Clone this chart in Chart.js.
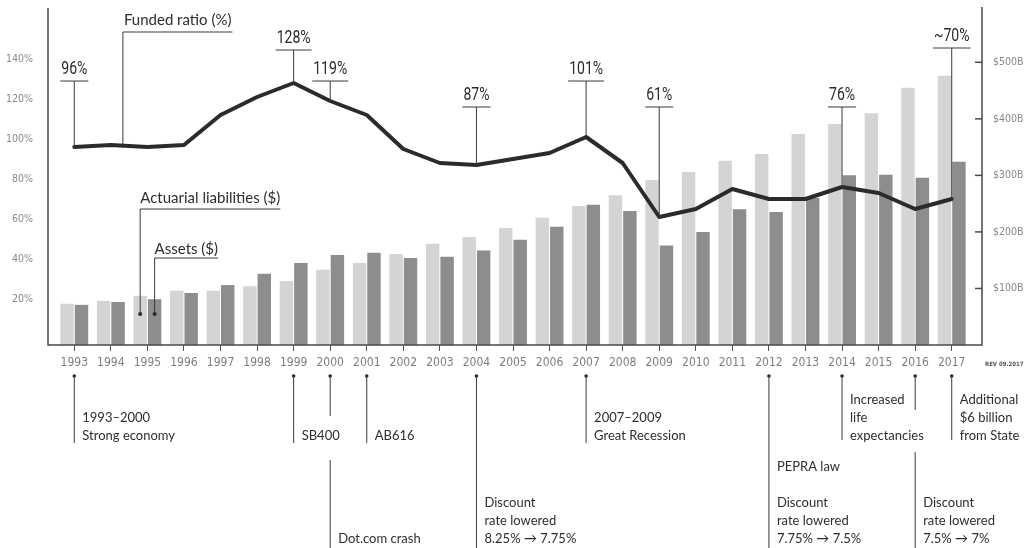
<!DOCTYPE html>
<html>
<head>
<meta charset="utf-8">
<script src="https://cdn.jsdelivr.net/npm/chart.js@4.4.1/dist/chart.umd.min.js"></script>
<style>
  html, body { margin: 0; padding: 0; background: #fff; }
  canvas { display: block; }
</style>
</head>
<body>
<canvas id="chart" width="1026" height="548"></canvas>
<script>
const years = ['1993', '1994', '1995', '1996', '1997', '1998', '1999', '2000', '2001', '2002',
  '2003', '2004', '2005', '2006', '2007', '2008', '2009', '2010', '2011', '2012',
  '2013', '2014', '2015', '2016', '2017'];

// $ billions
const liabilities = [73, 78, 87, 96, 96, 104, 113, 133, 145, 161, 179, 191, 207, 225, 246, 265, 292,
  306, 326, 338, 373, 391, 410, 455, 476];
const assets = [71, 76, 81, 92, 106, 126, 145, 159, 163, 154, 156, 167, 186, 209, 248, 237, 176,
  200, 240, 235, 260, 300, 301, 296, 324];
// percent, left axis
const fundedRatio = [96, 97, 96, 97, 112, 121, 128, 119, 112, 95, 88, 87, 90, 93, 101, 88, 61,
  65, 75, 70, 70, 76, 73, 65, 70];

const ratioTicks = [20, 40, 60, 80, 100, 120, 140];
const dollarTicks = [100, 200, 300, 400, 500];

// labelled points on the funded ratio line (ruleY = where the little rule sits)
const ratioCallouts = [
  { year: '1993', text: '96%', ruleY: 81 },
  { year: '1999', text: '128%', ruleY: 50 },
  { year: '2000', text: '119%', ruleY: 81 },
  { year: '2004', text: '87%', ruleY: 107 },
  { year: '2007', text: '101%', ruleY: 81 },
  { year: '2009', text: '61%', ruleY: 107 },
  { year: '2014', text: '76%', ruleY: 107 },
  { year: '2017', text: '~70%', ruleY: 48 },
];

// events under the axis: leader segments (top,bottom) and text lines (centre y)
const events = [
  { year: '1993', segs: [[376, 443]], lines: [['1993–2000', 418], ['Strong economy', 436]] },
  { year: '1999', segs: [[376, 443]], lines: [['SB400', 436]] },
  { year: '2000', segs: [[376, 416], [460, 548]], lines: [['Dot.com crash', 539]] },
  { year: '2001', segs: [[376, 443]], lines: [['AB616', 436]] },
  { year: '2004', segs: [[376, 548]], lines: [['Discount', 503], ['rate lowered', 521], ['8.25% → 7.75%', 539]] },
  { year: '2007', segs: [[376, 443]], lines: [['2007–2009', 418], ['Great Recession', 436]] },
  { year: '2012', segs: [[376, 548]], lines: [['PEPRA law', 467], ['Discount', 503], ['rate lowered', 521], ['7.75% → 7.5%', 539]] },
  { year: '2014', segs: [[376, 440]], lines: [['Increased', 400], ['life', 418], ['expectancies', 436]] },
  { year: '2016', segs: [[376, 410], [452, 548]], lines: [['Discount', 503], ['rate lowered', 521], ['7.5% → 7%', 539]] },
  { year: '2017', segs: [[376, 440]], lines: [['Additional', 400], ['$6 billion', 418], ['from State', 436]] },
];

const axisFont = "'DejaVu Sans Condensed', 'DejaVu Sans', sans-serif";

function say(ctx, s, x, y, font, opts = {}) {
  const sx = opts.sx || 1;
  ctx.save();
  ctx.font = font;
  ctx.fillStyle = opts.color || '#2e2e2e';
  ctx.textAlign = opts.align || 'left';
  ctx.textBaseline = opts.baseline || 'alphabetic';
  ctx.translate(x, y);
  ctx.scale(sx, 1);
  ctx.fillText(s, 0, 0);
  const w = ctx.measureText(s).width * sx;
  ctx.restore();
  return w;
}

function seg(ctx, x1, y1, x2, y2) {
  ctx.beginPath();
  ctx.moveTo(x1, y1);
  ctx.lineTo(x2, y2);
  ctx.stroke();
}

function dot(ctx, x, y, r) {
  ctx.beginPath();
  ctx.arc(x, y, r, 0, Math.PI * 2);
  ctx.fill();
}

const annotate = {
  id: 'annotate',
  afterDraw(chart) {
    const ctx = chart.ctx;
    const { left, right, top, bottom } = chart.chartArea;
    const xs = chart.scales.x;
    const y1 = chart.scales.y1;
    const line = chart.getDatasetMeta(2).data;
    const liabBars = chart.getDatasetMeta(0).data;
    const assetBars = chart.getDatasetMeta(1).data;

    ctx.save();
    // frame sits a little outside the plotting area
    ctx.strokeStyle = '#4a4a4a';
    ctx.lineWidth = 1.5;
    ctx.beginPath();
    ctx.moveTo(left - 8, top);
    ctx.lineTo(left - 8, bottom);
    ctx.lineTo(right + 12, bottom);
    ctx.lineTo(right + 12, top - 1);
    ctx.stroke();
    dollarTicks.forEach(v => {
      const y = y1.getPixelForValue(v);
      seg(ctx, right + 5, y, right + 12, y);
    });

    say(ctx, 'REV 09.2017', right + 15, 366, "bold 6px 'DejaVu Sans Condensed', sans-serif", { color: '#555' });

    ctx.strokeStyle = '#3a3a3a';
    ctx.fillStyle = '#2a2a2a';
    ctx.lineWidth = 1;

    // percentage labels
    ratioCallouts.forEach(c => {
      const p = line[years.indexOf(c.year)];
      const w = say(ctx, c.text, p.x, c.ruleY - 7, '18px Roboto', { align: 'center', sx: 0.78, color: '#2b2b2b' });
      seg(ctx, p.x - w / 2 - 1, c.ruleY, p.x + w / 2 + 1, c.ruleY);
      seg(ctx, p.x, c.ruleY, p.x, p.y);
    });

    // series names
    const seriesFont = '15px Lato';
    const fx = xs.getPixelForValue(1.33);
    const fy = line[1].y + (line[2].y - line[1].y) * 0.33;
    let w = say(ctx, 'Funded ratio (%)', fx + 1, 25, seriesFont);
    seg(ctx, fx, 32, fx + w + 2, 32);
    seg(ctx, fx, 32, fx, fy);
    dot(ctx, fx, fy, 1.8);

    const dotY = y1.getPixelForValue(55);
    const lx = liabBars[2].x;
    w = say(ctx, 'Actuarial liabilities ($)', lx, 203, seriesFont);
    seg(ctx, lx, 209, lx + w, 209);
    seg(ctx, lx, 209, lx, dotY);
    dot(ctx, lx, dotY, 2);

    const ax = assetBars[2].x;
    w = say(ctx, 'Assets ($)', ax, 254, seriesFont);
    seg(ctx, ax, 258, ax + w, 258);
    seg(ctx, ax, 258, ax, dotY);
    dot(ctx, ax, dotY, 2);

    // timeline events under the axis
    events.forEach(ev => {
      const x = xs.getPixelForValue(years.indexOf(ev.year));
      dot(ctx, x, 376, 1.8);
      ev.segs.forEach(s => seg(ctx, x, s[0], x, s[1]));
      ev.lines.forEach(l => say(ctx, l[0], x + 8, l[1], '13px Lato', { baseline: 'middle', color: '#2e2e2e' }));
    });
    ctx.restore();
  }
};

new Chart(document.getElementById('chart'), {
  data: {
    labels: years,
    datasets: [
      {
        type: 'bar',
        label: 'Actuarial liabilities ($)',
        data: liabilities,
        yAxisID: 'y1',
        backgroundColor: '#d4d4d4',
        categoryPercentage: 0.79,
        barPercentage: 0.93,
        order: 2,
      },
      {
        type: 'bar',
        label: 'Assets ($)',
        data: assets,
        yAxisID: 'y1',
        backgroundColor: '#8d8d8d',
        categoryPercentage: 0.79,
        barPercentage: 0.93,
        order: 2,
      },
      {
        type: 'line',
        label: 'Funded ratio (%)',
        data: fundedRatio,
        yAxisID: 'y',
        borderColor: '#2b2b2b',
        borderWidth: 4,
        borderJoinStyle: 'round',
        borderCapStyle: 'round',
        pointRadius: 0,
        tension: 0,
        order: 0,
      },
    ],
  },
  options: {
    responsive: false,
    animation: false,
    events: [],
    layout: { padding: { top: 8, bottom: 173, left: 0, right: 0 } },
    plugins: { legend: { display: false }, tooltip: { enabled: false } },
    scales: {
      x: {
        offset: true,
        border: { display: false },
        grid: { offset: false, drawOnChartArea: false, drawTicks: true, tickLength: 6, color: '#555' },
        ticks: { color: '#7d7d7d', padding: 5, maxRotation: 0, autoSkip: false, font: { family: axisFont, size: 12 } },
        afterFit(scale) {
          scale.height = 30;
          scale.paddingLeft = 0;
          scale.paddingRight = 0;
        },
      },
      y: {
        position: 'left',
        min: -3,
        max: 165.5,
        border: { display: false },
        grid: { display: false },
        ticks: { color: '#8a8a8a', padding: 15, font: { family: axisFont, size: 10.5 }, callback: v => v + '%' },
        afterBuildTicks(scale) { scale.ticks = ratioTicks.map(v => ({ value: v })); },
        afterFit(scale) {
          scale.width = 56;
          scale.paddingTop = 0;
          scale.paddingBottom = 0;
        },
      },
      y1: {
        position: 'right',
        min: 0,
        max: 596,
        border: { display: false },
        grid: { display: false },
        ticks: { color: '#8a8a8a', padding: 15, font: { family: axisFont, size: 10.5 }, callback: v => '$' + v + 'B' },
        afterBuildTicks(scale) { scale.ticks = dollarTicks.map(v => ({ value: v })); },
        afterFit(scale) {
          scale.width = 56;
          scale.paddingTop = 0;
          scale.paddingBottom = 0;
        },
      },
    },
  },
  plugins: [annotate],
});
</script>
</body>
</html>
